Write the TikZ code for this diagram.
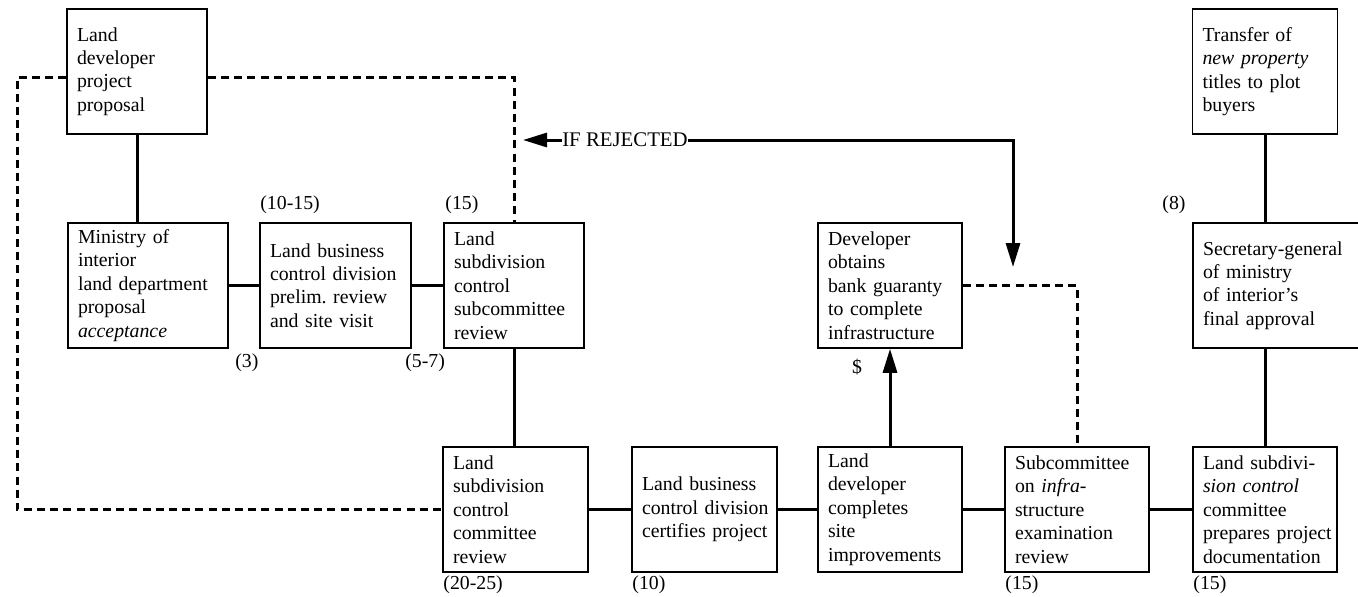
\documentclass[tikz,border=0pt]{standalone}
\usepackage{fontspec}
\setmainfont{Liberation Serif}
\usetikzlibrary{arrows.meta}
\newcommand{\figfont}{\fontsize{9.9}{11.7}\selectfont}
\begin{document}
\begin{tikzpicture}[x=0.5pt,y=-0.5pt,
  box/.style={draw, line width=0.8pt, inner xsep=5pt, inner ysep=0pt,
              minimum height=62.5pt, align=left, text width=#1, font=\figfont,
              execute at begin node={\hyphenpenalty=10000\exhyphenpenalty=10000\hbadness=10000\hfuzz=20pt}},
  lbl/.style={inner sep=0pt, font=\figfont},
  link/.style={line width=1.5pt},
  loop/.style={line width=1.5pt, dash pattern=on 4pt off 2.6pt},
  tip/.style={line width=1.5pt, -{Triangle[length=12pt,width=7pt]}}]
\useasboundingbox[fill=white] (0,0) rectangle (1358,596);

% top row
\node[box=60pt]   (propose)   at (137,71.5)   {Land\\developer\\project\\proposal};
\node[box=62.5pt] (transfer)  at (1265,71.5)  {Transfer~of\\\textit{new~property}\\titles~to~plot\\buyers};

% middle row
\node[box=70pt]   (ministry)  at (148,285.5)  {Ministry~of\\interior\\land~department\\proposal\\\textit{acceptance}};
\node[box=65.5pt] (prelim)    at (335.5,285.5){Land~business\\control~division\\prelim.~review\\and~site~visit};
\node[box=60pt]   (subcomm)   at (514,285.5)  {Land\\subdivision\\control\\subcommittee\\review};
\node[box=62pt]   (guaranty)  at (890,285.5)  {Developer\\obtains\\bank~guaranty\\to~complete\\infrastructure};
\node[box=75pt]   (secretary) at (1278,285.5) {Secretary-general\\of~ministry\\of~interior's\\final~approval};

% bottom row
\node[box=62.5pt] (review)    at (515.5,509.5){Land\\subdivision\\control\\committee\\review};
\node[box=62.5pt] (certify)   at (704.5,509.5){Land~business\\control~division\\certifies~project};
\node[box=62pt]   (complete)  at (890,509.5)  {Land\\developer\\completes\\site\\improvements};
\node[box=62pt]   (infra)     at (1077,509.5) {Subcommittee\\on~\textit{infra-}\\structure\\examination\\review};
\node[box=62pt]   (prepare)   at (1265,509.5) {Land~subdivi-\\\textit{sion~control}\\committee\\prepares~project\\documentation};

% durations
\node[lbl, anchor=west] (d1015) at (260,205)  {(10-15)};
\node[lbl, anchor=west] (d15a)  at (445,205)  {(15)};
\node[lbl, anchor=west] (d3)    at (235,363)  {(3)};
\node[lbl, anchor=west] (d57)   at (405,363)  {(5-7)};
\node[lbl, anchor=west] (d2025) at (443,585)  {(20-25)};
\node[lbl, anchor=west] (d10)   at (632,585)  {(10)};
\node[lbl, anchor=west] (d15b)  at (1005,585) {(15)};
\node[lbl, anchor=west] (d15c)  at (1193,585) {(15)};
\node[lbl, anchor=west] (d8)    at (1162,205) {(8)};
\node[lbl]              (money) at (857,367)  {\$};

% rejection loop
\node[lbl, font=\fontsize{10.4}{12}\selectfont] (rej) at (625,140) {IF REJECTED};
\coordinate (rejleft) at (523,140);
\coordinate (rejtip)  at (1013,267);
\coordinate (loopL)   at (17,0);

% solid links
\draw[link] (propose.south) -- (propose.south |- ministry.north);
\draw[link] (ministry.east) -- (prelim.west);
\draw[link] (prelim.east) -- (subcomm.west);
\draw[link] (subcomm.south) -- (subcomm.south |- review.north);
\draw[link] (review.east) -- (certify.west);
\draw[link] (certify.east) -- (complete.west);
\draw[link] (complete.east) -- (infra.west);
\draw[link] (infra.east) -- (prepare.west);
\draw[link] (transfer.south) -- (transfer.south |- secretary.north);
\draw[link] (prepare.north |- secretary.south) -- (prepare.north);

% arrows
\draw[tip] (complete.north) -- (guaranty.south);
\draw[tip] (rej.west) -- (rejleft);
\draw[tip] (rej.east) -| (rejtip);

% dashed return paths
\draw[loop] ([yshift=-2.75pt]propose.west) -| (loopL |- review.west) -- (review.west);
\draw[loop] ([yshift=-2.75pt]propose.east) -| (subcomm.north);
\draw[loop] (guaranty.east) -| (infra.north);
\end{tikzpicture}
\end{document}
